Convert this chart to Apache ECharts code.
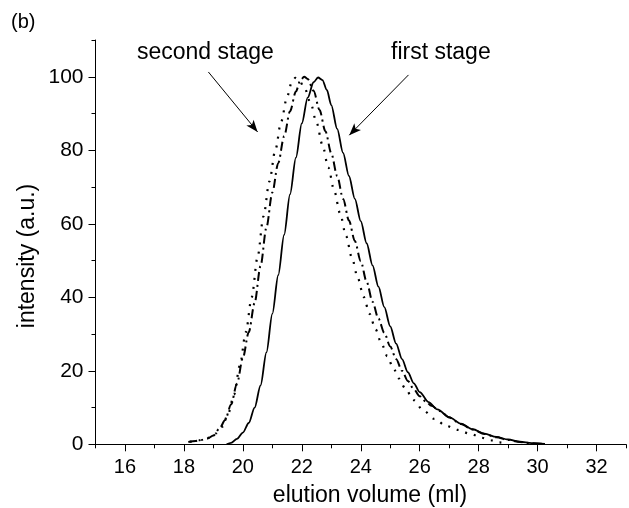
<!DOCTYPE html>
<html>
<head>
<meta charset="utf-8">
<script src="https://cdn.jsdelivr.net/npm/echarts@6/dist/echarts.min.js"></script>
<style>html,body{margin:0;padding:0;background:#fff}#c{width:629px;height:508px}</style>
</head>
<body>
<div id="c"></div>
<script>
// ---- data ----
const firstStage = [
  [19.45,0],[19.6,0.4],[19.8,1.5],[20.0,3.2],[20.2,5.8],[20.4,10],[20.6,16],[20.8,25],
  [21.0,35.5],[21.2,46],[21.4,57],[21.6,68],[21.8,78],[22.0,87.3],[22.2,94.3],[22.4,98.5],
  [22.55,99.8],[22.7,99.1],[22.85,96.4],[23.0,92.3],[23.2,85.8],[23.4,79.3],[23.6,73.0],
  [23.8,66.8],[24.0,60.7],[24.2,54.7],[24.4,48.7],[24.6,42.9],[24.8,37.3],[25.0,32.1],
  [25.2,27.4],[25.4,23.2],[25.6,19.6],[25.8,16.6],[26.0,14.2],[26.3,11.5],[26.6,9.5],
  [27.0,7.4],[27.4,5.6],[27.8,4.1],[28.2,2.9],[28.6,2.0],[29.0,1.3],[29.4,0.7],
  [29.8,0.3],[30.25,0.1]
];
const secondStage = [
  [18.15,0.6],[18.4,0.9],[18.6,1.2],[18.8,1.6],[19.0,2.4],[19.2,4.2],[19.4,6.6],[19.6,10.8],
  [19.8,16.5],[20.0,23.5],[20.2,30.5],[20.4,38.5],[20.6,48.5],[20.8,59],[21.0,68.5],
  [21.2,76.5],[21.4,83.8],[21.6,90.6],[21.8,96],[21.95,99.0],[22.08,100],[22.2,99.4],
  [22.4,96.2],[22.6,91.0],[22.8,85.2],[23.0,79.2],[23.2,73.0],[23.4,66.8],[23.6,60.9],
  [23.8,55.3],[24.0,49.8],[24.2,44.2],[24.4,38.8],[24.6,34.2],[24.8,30.3],[25.0,26.6],
  [25.2,23.2],[25.4,20.0],[25.6,17.2],[25.8,15.0],[26.0,13.1],[26.2,11.7],[26.4,10.5],
  [26.7,9.0],[27.0,7.3],[27.4,5.5],[27.8,4.0],[28.2,2.8],[28.6,1.9],[29.0,1.2],
  [29.4,0.6],[29.8,0.3],[30.2,0.1]
];
const dottedCurve = [
  [18.2,0.7],[18.5,1.1],[18.8,1.7],[19.1,3.0],[19.3,4.8],[19.5,8.3],[19.7,13.5],[19.9,21.5],
  [20.1,30.5],[20.3,40],[20.5,51],[20.7,62],[20.9,71.5],[21.1,80],[21.3,87.8],[21.5,94.5],
  [21.65,98.3],[21.78,99.7],[21.9,99.2],[22.1,96.8],[22.3,92.8],[22.5,87.5],[22.7,81.5],
  [22.9,75.3],[23.1,69.0],[23.3,62.8],[23.5,56.7],[23.7,50.8],[23.9,45.2],[24.1,40.1],
  [24.3,35.5],[24.5,31.3],[24.7,27.5],[24.9,24.0],[25.1,20.8],[25.3,17.9],[25.5,15.3],
  [25.8,12.0],[26.1,9.4],[26.5,6.9],[26.9,5.0],[27.3,3.9],[27.7,2.9],[28.1,1.8],
  [28.4,1.1],[28.7,0.5],[29.0,0.15]
];
const xMajorTicks = [16,18,20,22,24,26,28,30,32];
const yMajorTicks = [0,20,40,60,80,100];
const arrowSecond = [[18.83,101.3],[20.50,85.0]];
const arrowFirst = [[25.62,100.5],[23.61,84.1]];

const FONT = '"Liberation Sans", Arial, sans-serif';
const chart = echarts.init(document.getElementById('c'), null, {renderer:'canvas'});

const lineAx = {show:true, onZero:false, lineStyle:{color:'#000', width:1}};

chart.setOption({
  animation:false,
  backgroundColor:'#fff',
  grid:{left:95.5, top:40, width:538.2, height:404.3, containLabel:false},
  xAxis:[{
    type:'value', min:15, max:33, interval:1, position:'bottom',
    axisLine:lineAx, splitLine:{show:false},
    axisTick:{show:true, inside:false, length:4, lineStyle:{color:'#000', width:1}},
    axisLabel:{show:true, margin:13, color:'#000', fontSize:20, fontFamily:FONT,
      formatter:v => xMajorTicks.indexOf(v) >= 0 ? String(v) : ''}
  },{
    type:'value', min:15, max:33, interval:1, position:'bottom',
    axisLine:{show:false}, splitLine:{show:false}, axisLabel:{show:false},
    axisTick:{show:true, length:7, customValues:xMajorTicks, lineStyle:{color:'#000', width:1}}
  }],
  yAxis:[{
    type:'value', min:0, max:110, interval:10, position:'left',
    axisLine:lineAx, splitLine:{show:false},
    axisTick:{show:true, inside:false, length:4, lineStyle:{color:'#000', width:1}},
    axisLabel:{show:true, margin:12, color:'#000', fontSize:21, fontFamily:FONT,
      formatter:v => yMajorTicks.indexOf(v) >= 0 ? String(v) : ''}
  },{
    type:'value', min:0, max:110, interval:10, position:'left',
    axisLine:{show:false}, splitLine:{show:false}, axisLabel:{show:false},
    axisTick:{show:true, length:7, customValues:yMajorTicks, lineStyle:{color:'#000', width:1}}
  }],
  series:[
    {name:'first stage', type:'line', data:firstStage, xAxisIndex:0, yAxisIndex:0,
     showSymbol:false, smooth:0.3, smoothMonotone:'x',
     lineStyle:{color:'#000', width:1.8, type:'solid'}, silent:true,
     markLine:{silent:true, symbol:['none','arrow'], symbolSize:[7,12],
       label:{show:false}, lineStyle:{color:'#000', width:1, type:'solid'},
       data:[[{coord:arrowFirst[0]},{coord:arrowFirst[1]}],
             [{coord:arrowSecond[0]},{coord:arrowSecond[1]}]]}},
    {name:'second stage', type:'line', data:secondStage, xAxisIndex:0, yAxisIndex:0,
     showSymbol:false, smooth:0.3, smoothMonotone:'x',
     lineStyle:{color:'#000', width:2, type:[9,4,2,4]}, silent:true},
    {name:'dotted', type:'line', data:dottedCurve, xAxisIndex:0, yAxisIndex:0,
     showSymbol:false, smooth:0.3, smoothMonotone:'x',
     lineStyle:{color:'#000', width:2.2, type:[2,7]}, silent:true}
  ],
  graphic:[
    {type:'text', left:11, top:12, style:{text:'(b)', fill:'#000', font:'20px '+FONT}},
    {type:'text', left:137, top:41, style:{text:'second stage', fill:'#000', font:'23px '+FONT}},
    {type:'text', left:391, top:41, style:{text:'first stage', fill:'#000', font:'23px '+FONT}},
    {type:'text', x:370, y:496, style:{text:'elution volume (ml)', fill:'#000', font:'23px '+FONT,
      textAlign:'center', textVerticalAlign:'middle', align:'center', verticalAlign:'middle'}},
    {type:'text', x:28, y:256, rotation:Math.PI/2, style:{text:'intensity (a.u.)', fill:'#000', font:'23px '+FONT,
      textAlign:'center', textVerticalAlign:'middle', align:'center', verticalAlign:'middle'}}
  ]
});
</script>
</body>
</html>
